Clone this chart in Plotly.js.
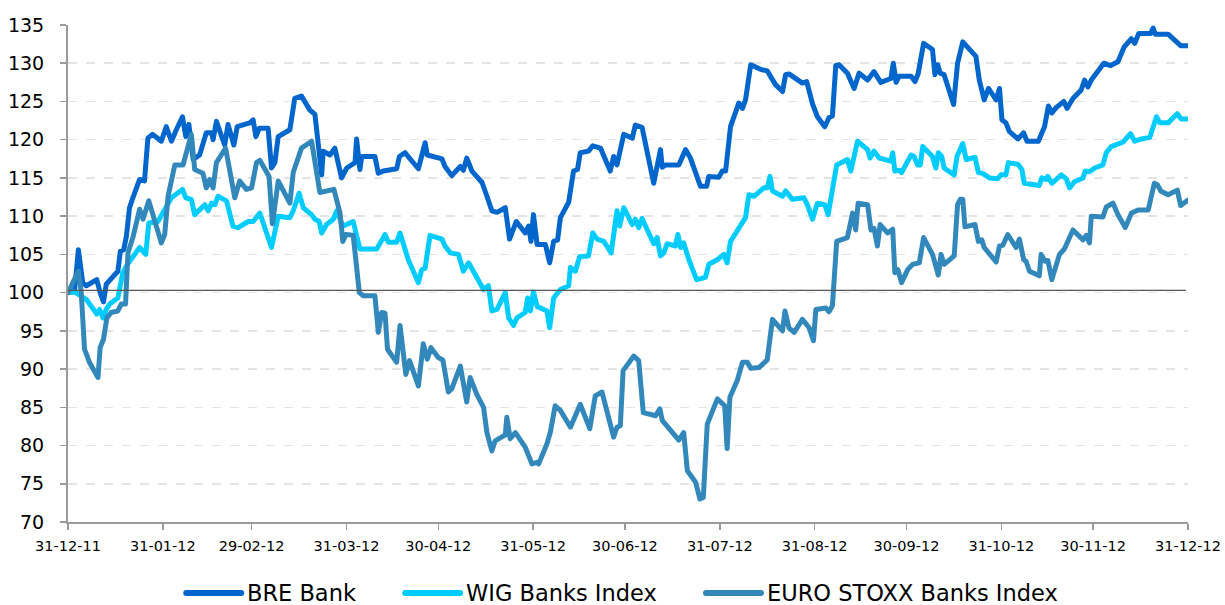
<!DOCTYPE html>
<html>
<head>
<meta charset="utf-8">
<script src="https://cdn.plot.ly/plotly-3.0.1.min.js"></script>
<style>
html,body{margin:0;padding:0;background:#fff;}
#chart{width:1225px;height:605px;}
.scatterlayer path.js-line{stroke-linejoin:round;stroke-linecap:round;}
.shapelayer path{stroke-linecap:round;}
</style>
</head>
<body>
<div id="chart"></div>
<script>
// ---- data (days after 31-12-2011, index values) ----
const seriesNames = ['BRE Bank', 'WIG Banks Index', 'EURO STOXX Banks Index'];

const breDays = [0,2.1,3.4,4.8,6.0,9.4,10.5,11.6,12.5,16.3,17.1,18.2,19.1,20.1,21.2,23.4,25.0,26.1,27.6,30.5,32.1,33.8,35.4,37.4,38.5,39.5,40.9,43.0,45.2,46.9,47.4,48.5,51.2,52.3,54.2,55.3,59.4,60.5,61.4,62.5,65.4,66.5,67.6,68.7,72.5,74.1,76.3,79.0,80.7,82.9,83.4,85.6,87.2,89.4,91.1,93.8,94.3,95.4,96.0,100.3,101.4,103.0,107.4,108.3,110.1,114.5,116.7,117.4,122.2,123.2,125.4,128.2,129.2,130.3,132.0,135.3,136.9,138.5,140.2,142.9,144.3,146.5,149.4,150.5,151.3,152.1,153.3,156.0,157.4,158.7,160.0,160.9,163.6,165.2,166.5,167.4,170.1,171.5,174.0,177.2,178.3,179.4,181.6,184.4,185.4,187.6,191.4,193.6,194.2,195.3,199.6,201.8,203.4,206.7,208.7,209.4,212.7,213.8,214.9,216.5,219.2,220.4,221.4,223.1,226.3,228.5,231.2,233.5,234.5,235.6,240.0,241.4,243.3,244.9,247.3,248.7,249.8,250.9,252.0,254.7,256.9,258.5,261.3,263.4,265.6,268.9,269.7,270.6,271.6,275.5,276.8,277.8,279.6,282.5,283.3,284.2,285.0,286.3,289.4,290.7,292.4,296.7,297.8,299.4,300.8,303.3,304.4,305.2,306.5,307.6,310.4,312.3,313.4,317.1,319.1,320.4,321.5,322.9,325.4,326.5,328.4,331.1,332.2,333.3,334.4,338.5,340.7,342.0,343.1,345.1,347.5,348.6,349.9,353.8,354.6,355.3,359.5,363.6,366];
const breValues = [100,100.1,105.6,101.3,100.9,101.7,100.0,98.8,101.1,102.8,105.4,105.6,107.4,111.1,112.4,114.8,114.6,120.2,120.7,119.8,121.7,119.8,121.3,123.0,120.4,122.0,117.4,118.0,120.9,120.9,120.0,122.4,119.3,122.0,119.3,121.7,122.2,122.6,120.4,121.5,121.5,116.3,117.0,120.4,121.3,125.4,125.7,123.9,123.3,115.4,118.5,118.0,118.9,115.0,116.3,117.0,120.1,116.1,117.8,117.8,115.6,115.9,116.2,117.8,118.3,116.2,119.6,118.0,117.5,116.5,115.3,116.5,116.0,117.6,115.9,114.4,112.6,110.7,110.5,111.1,107.0,109.3,107.8,108.7,106.7,110.2,106.3,106.3,103.9,106.7,106.9,109.8,111.8,115.9,116.1,118.3,118.5,119.2,118.9,115.9,117.8,116.7,120.7,120.2,121.9,121.6,114.3,118.7,116.4,116.7,116.7,118.7,117.6,113.9,113.9,115.2,115.1,115.9,115.9,121.7,124.8,124.1,125.2,129.8,129.2,129.0,127.2,126.3,128.5,128.6,127.4,127.6,124.7,123.0,121.7,122.9,123.1,129.7,129.8,128.7,126.7,128.7,127.8,128.9,127.5,128.0,130.0,127.5,128.3,128.3,127.6,128.6,132.6,131.8,128.5,129.8,128.7,128.5,124.6,130.0,132.8,130.9,127.8,125.2,126.7,125.2,126.7,122.6,122.2,121.1,120.1,120.9,119.8,119.8,121.7,124.4,123.5,124.2,125.0,124.1,125.4,126.5,127.8,126.9,127.8,130.0,129.7,130.0,130.2,132.1,133.2,132.6,133.9,133.9,134.6,133.8,133.8,132.3,132.3];

const wigDays = [0,2.1,6.0,9.4,10.3,11.4,12.5,13.6,16.3,17.1,17.9,19.1,20.7,23.4,25.4,26.4,29.4,32.1,33.8,37.4,38.5,40.3,41.4,44.7,45.8,46.9,48.0,49.0,51.8,53.9,55.6,58.9,60.5,62.7,66.5,68.7,72.5,73.6,75.5,76.9,79.6,80.7,82.1,82.9,84.5,86.7,87.8,89.8,93.2,95.4,100.9,103.6,104.7,107.4,108.5,111.2,114.5,115.6,116.7,118.3,122.2,123.2,124.9,127.6,129.2,130.9,135.8,137.4,138.5,140.2,142.9,144.0,145.6,146.7,149.4,150.2,151.1,152.1,153.3,156.5,157.4,158.7,160.9,163.6,164.2,165.8,167.2,170.1,171.5,172.9,175.1,177.5,179.4,180.3,181.6,184.4,185.4,186.5,187.6,191.4,192.5,193.6,194.7,195.8,198.5,199.3,200.2,201.2,202.9,205.4,208.3,209.4,212.2,214.3,215.4,216.5,218.7,221.4,222.5,224.2,227.4,228.5,229.4,230.2,233.5,234.5,236.7,240.5,241.6,243.3,244.9,247.3,248.4,251.2,254.7,255.8,258.0,261.3,262.1,263.4,265.1,268.9,269.5,270.2,271.6,272.4,275.5,276.5,277.6,278.5,279.3,280.9,282.5,283.6,284.4,285.5,286.3,289.6,290.5,292.4,293.5,296.4,297.5,298.9,301.1,303.8,304.9,306.5,307.3,310.4,311.7,312.5,314.2,317.4,318.2,319.6,320.2,321.5,324.6,326.2,327.3,328.9,331.7,332.4,333.8,335.5,338.2,339.3,340.9,344.8,347.2,348.6,350.8,353.5,355.7,356.8,359.5,362.5,363.8,366];
const wigValues = [100,100.1,99.1,97.2,97.8,96.7,97.8,98.5,99.3,100.9,102.6,103.5,104.3,105.9,105.0,109.1,109.3,111.3,112.4,113.5,112.4,112.2,110.2,111.5,110.7,111.7,111.5,112.6,112.0,108.7,108.5,109.3,109.3,110.4,105.9,110.0,109.8,110.7,113.0,111.1,110.2,109.6,109.3,107.8,108.9,109.6,110.7,108.7,109.3,105.7,105.7,107.6,106.6,106.6,107.8,104.3,101.3,103.0,103.2,107.5,107.0,106.1,105.2,105.0,102.8,103.9,100.4,100.9,97.6,97.8,100.0,96.7,95.7,96.7,97.4,99.3,97.6,100.1,98.2,97.6,95.4,99.3,100.4,100.9,103.3,102.8,104.7,104.8,107.8,107.0,106.7,105.2,110.7,108.7,111.1,108.9,109.6,108.5,109.7,106.4,107.2,104.8,105.2,106.4,106.1,107.6,105.9,106.5,104.3,101.7,102.0,103.7,104.3,105.0,103.9,106.7,108.0,109.8,112.8,112.6,113.7,113.7,115.2,113.3,112.6,113.3,112.2,112.4,111.5,109.6,111.7,111.5,110.2,116.7,117.4,115.9,119.8,118.7,117.6,118.5,117.6,117.2,118.3,115.9,116.0,115.7,118.0,117.8,116.7,116.7,119.1,118.5,117.8,116.3,118.3,117.8,116.3,115.4,117.8,119.5,117.4,117.7,115.7,115.6,115.0,114.9,115.4,115.4,117.0,116.8,116.1,114.3,114.2,114.0,115.0,114.8,115.2,114.3,115.4,114.9,113.7,114.5,115.0,115.9,115.8,116.3,116.7,118.3,119.1,119.7,120.8,119.8,120.1,120.3,123.0,122.2,122.2,123.4,122.7,122.7];

const stoxxDays = [0,3.4,4.3,5.4,7.0,9.8,10.5,11.6,12.7,14.1,16.3,17.4,18.8,19.6,21.2,23.4,24.5,26.4,30.5,31.6,32.7,34.9,37.6,40.3,41.4,44.1,45.2,46.3,47.4,48.5,51.5,54.5,56.1,58.3,60.0,61.6,62.7,65.7,66.8,68.7,72.5,73.6,76.3,79.6,82.3,86.9,88.9,89.8,90.8,93.2,95.2,96.5,100.3,101.4,102.5,103.6,104.4,107.4,108.5,110.4,111.6,114.5,116.1,117.4,118.6,121.0,122.5,124.3,125.4,128.2,130.3,131.4,133.6,135.8,136.9,138.5,139.6,142.9,143.4,144.5,146.2,149.4,151.6,153.3,153.8,156.5,157.6,159.2,160.9,164.2,167.4,170.5,172.3,174.5,178.3,179.4,180.5,181.4,184.9,186.5,188.0,192.0,193.4,194.2,199.6,201.2,202.4,205.1,206.5,207.6,208.9,212.2,214.6,215.4,216.3,218.7,220.4,222.0,223.1,225.8,228.5,230.2,233.5,234.3,235.6,237.3,240.0,242.2,243.6,244.4,247.6,248.7,249.8,251.2,254.7,255.6,256.4,257.4,258.2,261.3,262.4,263.4,264.5,265.4,267.8,269.5,270.2,271.2,272.4,274.4,276.0,278.2,279.6,282.5,284.4,285.3,286.3,289.6,290.7,291.6,292.4,293.1,296.4,297.5,298.6,299.4,303.3,304.4,305.5,307.1,309.8,310.9,312.3,313.1,314.2,317.4,318.0,319.3,320.2,321.5,324.0,325.6,328.4,331.7,332.8,333.8,334.4,338.2,339.3,341.5,343.1,345.5,347.5,349.7,353.0,355.0,356.0,357.1,359.5,362.5,363.6,366];
const stoxxValues = [100,102.8,100.2,92.6,90.9,88.9,92.8,93.9,96.7,97.4,97.6,98.5,98.5,105.2,107.2,110.9,109.6,112.0,106.5,107.6,112.6,116.7,116.7,120.7,116.1,115.6,113.7,114.8,113.7,117.0,118.9,112.4,114.6,113.5,113.7,117.0,117.3,115.2,109.0,114.6,111.7,115.7,118.9,119.8,113.1,113.5,110.4,106.7,107.6,107.5,100.0,99.6,99.6,94.8,97.4,97.3,92.6,90.9,95.7,89.3,91.1,87.8,93.3,91.3,92.8,91.5,91.2,87.0,87.4,90.4,85.7,88.9,86.7,85.0,81.7,79.3,80.6,81.4,83.7,80.9,81.7,79.8,77.6,77.8,77.6,80.2,81.7,85.2,84.6,82.4,85.4,82.2,86.5,87.0,81.1,82.4,82.6,89.8,91.7,91.1,84.3,83.9,84.8,83.3,80.7,81.7,76.7,75.2,73.0,73.2,82.8,86.1,85.2,79.6,86.3,88.5,90.9,90.9,90.1,90.2,91.2,96.5,95.0,97.6,95.4,94.8,96.5,95.4,93.7,97.8,98.0,97.5,98.3,106.7,107.2,109.1,110.4,108.2,111.7,111.5,108.2,108.4,106.1,108.9,107.8,108.3,102.6,103.0,101.3,103.0,103.7,103.9,107.2,105.0,102.3,105.0,103.7,104.8,111.5,112.2,112.2,108.6,108.9,106.7,106.9,105.9,104.0,106.1,106.2,107.6,105.9,107.0,104.3,104.1,102.8,102.2,105.0,104.1,104.2,101.7,105.0,105.7,108.2,106.9,107.5,106.5,110.0,109.9,111.2,111.7,110.2,108.5,110.4,110.8,110.8,114.3,114.1,113.3,112.8,113.4,111.4,112.1];

const tickDates = ['2011-12-31','2012-01-31','2012-02-29','2012-03-31','2012-04-30','2012-05-31','2012-06-30','2012-07-31','2012-08-31','2012-09-30','2012-10-31','2012-11-30','2012-12-31'];
const refLevel = 100.3;

// ---- drawing ----
const W = 1225, H = 605;
const M = {l: 68, r: 37, t: 25, b: 83};
const plotW = W - M.l - M.r, plotH = H - M.t - M.b;
const fontFamily = '"DejaVu Sans", Verdana, sans-serif';

const baseMs = Date.UTC(2011, 11, 31);
function toDate(d) {
  return new Date(baseMs + d * 86400000).toISOString().replace('T', ' ').slice(0, 19);
}
const colors = ['#0066CC', '#00CCFF', '#3388BB'];
const allDays = [breDays, wigDays, stoxxDays];
const allValues = [breValues, wigValues, stoxxValues];

const traces = seriesNames.map((name, i) => ({
  type: 'scatter',
  mode: 'lines',
  name: name,
  x: allDays[i].map(toDate),
  y: allValues[i],
  line: {color: colors[i], width: 5},
  hoverinfo: 'skip',
  showlegend: false
}));

// legend laid out below the plot (line sample + label per series)
const legendFontSize = 22.5;
const ctx = document.createElement('canvas').getContext('2d');
ctx.font = legendFontSize + 'px "DejaVu Sans"';
const sampleLen = 55, sampleGap = 4, itemGap = 51;
const textWidths = seriesNames.map(n => ctx.measureText(n).width);
const legendTotal = textWidths.reduce((s, w) => s + sampleLen + sampleGap + w, 0) + itemGap * (seriesNames.length - 1);
const legendCenterPx = 621, legendYpx = 593;
const legendY = (H - M.b - legendYpx) / plotH;
const shapes = [{type: 'line', xref: 'paper', x0: 0, x1: 0.998, yref: 'y', y0: refLevel, y1: refLevel,
                 line: {color: '#555555', width: 1.2}}];
const annotations = [];
let cursor = legendCenterPx - legendTotal / 2;
seriesNames.forEach((name, i) => {
  const px2paper = px => (px - M.l) / plotW;
  shapes.push({type: 'line', xref: 'paper', yref: 'paper',
               x0: px2paper(cursor), x1: px2paper(cursor + sampleLen), y0: legendY, y1: legendY,
               line: {color: colors[i], width: 6}});
  cursor += sampleLen + sampleGap;
  annotations.push({xref: 'paper', yref: 'paper', x: px2paper(cursor), y: legendY,
                    xanchor: 'left', yanchor: 'middle', showarrow: false, text: name,
                    font: {size: legendFontSize, color: '#000000', family: fontFamily}});
  cursor += textWidths[i] + itemGap;
});

const axisCommon = {
  showline: true, linecolor: '#9a9a9a', linewidth: 2,
  ticks: 'outside', ticklen: 6, tickwidth: 1.5, tickcolor: '#9a9a9a',
  zeroline: false
};

const layout = {
  width: W, height: H,
  margin: M,
  paper_bgcolor: '#ffffff', plot_bgcolor: '#ffffff',
  font: {family: fontFamily, color: '#000000'},
  showlegend: false,
  xaxis: Object.assign({}, axisCommon, {
    type: 'date', range: [tickDates[0], tickDates[tickDates.length - 1]],
    tickmode: 'array', tickvals: tickDates, tickformat: '%d-%m-%y',
    showgrid: false, tickfont: {size: 14.5}, ticklabelstandoff: 4
  }),
  yaxis: Object.assign({}, axisCommon, {
    range: [70, 135], tick0: 70, dtick: 5,
    showgrid: true, gridcolor: '#e4e4e4', gridwidth: 1.5, griddash: 'dash',
    tickfont: {size: 19}, ticklabelstandoff: 12
  }),
  shapes: shapes,
  annotations: annotations
};

Plotly.newPlot('chart', traces, layout, {displayModeBar: false, staticPlot: true});
</script>
</body>
</html>
